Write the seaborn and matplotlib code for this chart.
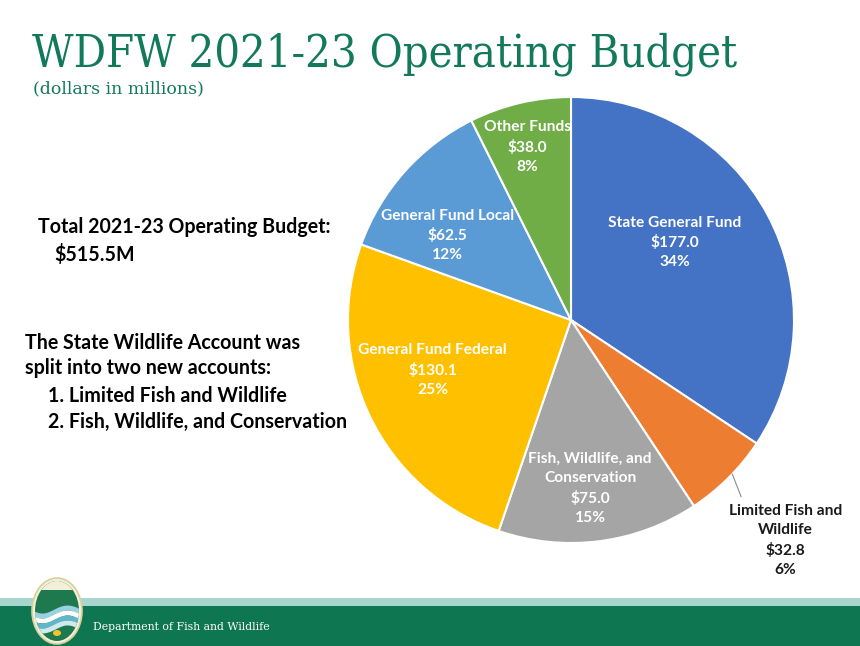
import numpy as np
import matplotlib
matplotlib.use("Agg")
import matplotlib.pyplot as plt
from matplotlib.patches import Ellipse, Rectangle
import seaborn as sns

# ---- data ----
categories = ["State General Fund", "Limited Fish and\nWildlife", "Fish, Wildlife, and\nConservation",
              "General Fund Federal", "General Fund Local", "Other Funds"]
values = [177.0, 32.8, 75.0, 130.1, 62.5, 38.0]
percents = ["34%", "6%", "15%", "25%", "12%", "8%"]
colors = ["#4472C4", "#ED7D31", "#A5A5A5", "#FFC000", "#5B9BD5", "#70AD47"]
# label placement (fraction of radius, angle offset in degrees from wedge middle)
label_r = [0.58, 1.38, 0.76, 0.66, 0.67, 0.80]
label_da = [8.5, -0.7, -0.8, -5.8, 7.3, 1.0]
label_inside = [True, False, True, True, True, True]

sns.set_theme(style="white")
plt.rcParams['font.family'] = ['Lato', 'DejaVu Sans']

W, H = 860, 646
fig = plt.figure(figsize=(W / 100, H / 100), dpi=100)

bg = fig.add_axes([0, 0, 1, 1])
bg.set_xlim(0, W)
bg.set_ylim(H, 0)
bg.axis("off")

green = "#12795A"
serif = ["DejaVu Serif"]
# footer band
bg.add_patch(Rectangle((0, 598), W, 8, color="#A8D6CF", lw=0))
bg.add_patch(Rectangle((0, 606), W, 40, color="#0E7752", lw=0))
bg.text(93, 627, "Department of Fish and Wildlife", color="white", fontsize=7.8,
        family=serif, va="center", ha="left")

# logo (simplified)
logo = Ellipse((57, 611), 50, 66, facecolor="#F3EFD8", edgecolor="#D9CF9A", lw=1.2, zorder=3)
bg.add_patch(logo)
inner = Ellipse((57, 611), 44, 60, facecolor="#1E7A4E", lw=0, zorder=4)
bg.add_patch(inner)
xs = np.linspace(30, 84, 60)
for c, off in [("#9AD1E0", 0), ("#FFFFFF", 5), ("#5FB7C9", 10), ("#CFE9EE", 15)]:
    ln, = bg.plot(xs, 612 + off + 4 * np.sin((xs - 30) / 8.0), color=c, lw=3.5, zorder=5)
    ln.set_clip_path(inner)
sky = Rectangle((35, 578), 44, 12, facecolor="#F3EFD8", lw=0, zorder=5)
bg.add_patch(sky)
sky.set_clip_path(inner)
bg.add_patch(Ellipse((57, 633), 8, 6, facecolor="#F2C230", lw=0, zorder=6))

# titles
bg.text(32, 66, "WDFW 2021-23 Operating Budget", color=green, fontsize=32.4,
        family=serif, fontstretch="condensed", va="baseline", ha="left")
bg.text(33, 93, "(dollars in millions)", color=green, fontsize=12.5,
        family=serif, va="baseline", ha="left")

# left texts
txt_kw = dict(color="black", fontsize=14.1, fontweight="bold", va="center", ha="left")
bg.text(38, 227, "Total 2021-23 Operating Budget:", **txt_kw)
bg.text(54, 255, "$515.5M", **txt_kw)
bg.text(25, 343, "The State Wildlife Account was", **txt_kw)
bg.text(25, 368, "split into two new accounts:", **txt_kw)
bg.text(48, 396, "1. Limited Fish and Wildlife", **txt_kw)
bg.text(48, 422, "2. Fish, Wildlife, and Conservation", **txt_kw)

# pie axes positioned so the pie sits at the reference location
cx, cy, R = 571, 320, 223
ax = fig.add_axes([(cx - R) / W, 1 - (cy + R) / H, 2 * R / W, 2 * R / H])
wedges, _ = ax.pie(values, colors=colors, startangle=90, counterclock=False,
                   wedgeprops=dict(edgecolor="white", linewidth=1.5), radius=1.0)
ax.set_xlim(-1, 1)
ax.set_ylim(-1, 1)
ax.axis("off")

for w, cat, v, p, r, da, inside in zip(wedges, categories, values, percents,
                                       label_r, label_da, label_inside):
    mid = np.deg2rad((w.theta1 + w.theta2) / 2 + da)
    x, y = r * np.cos(mid), r * np.sin(mid)
    ax.text(x, y, f"{cat}\n${v:.1f}\n{p}", ha="center", va="center",
            color="white" if inside else "#1a1a1a", fontsize=11.2, fontweight="bold",
            linespacing=1.45, clip_on=False)
    if not inside:
        m0 = np.deg2rad((w.theta1 + w.theta2) / 2 + 1.4)
        m1 = np.deg2rad((w.theta1 + w.theta2) / 2 - 1.0)
        ax.plot([1.0 * np.cos(m0), 1.1 * np.cos(m1)], [1.0 * np.sin(m0), 1.1 * np.sin(m1)],
                color="#8c8c8c", lw=0.8, clip_on=False)

fig.savefig("out.png", dpi=100)
